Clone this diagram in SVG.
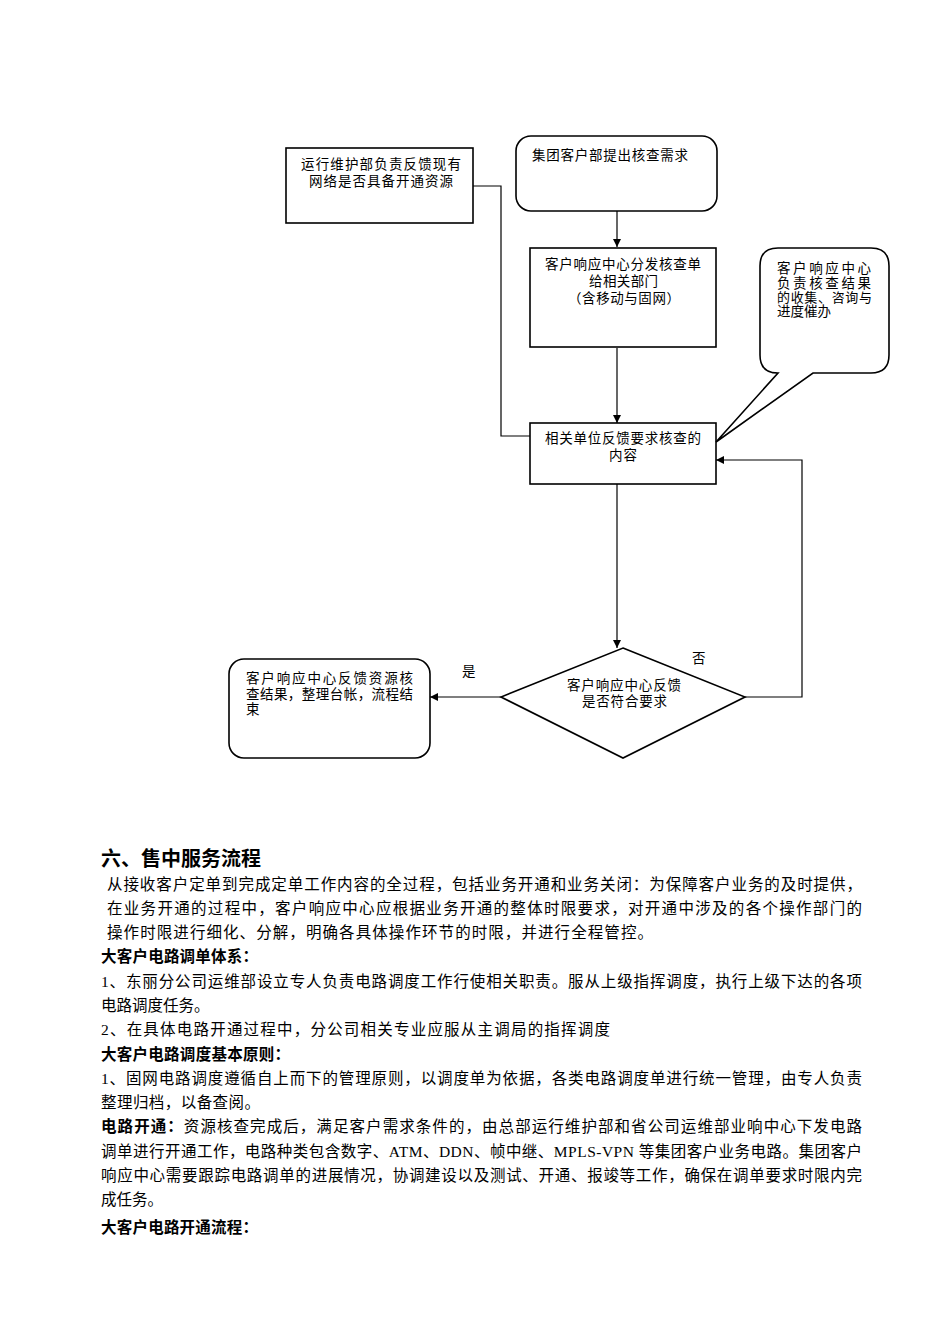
<svg xmlns="http://www.w3.org/2000/svg" width="950" height="1344" viewBox="0 0 950 1344">
<style>
.box{fill:#fff;stroke:#000;stroke-width:1.6}
.ln{fill:none;stroke:#000;stroke-width:1.2}
.t{font-family:"Liberation Serif","Noto Sans CJK SC",serif;font-size:13.5px;fill:#000}
.p{font-family:"Liberation Serif","Noto Sans CJK SC",serif;font-size:15.5px;fill:#000}
.b{font-family:"Liberation Serif","Noto Sans CJK SC",serif;font-size:15.5px;font-weight:bold;fill:#000}
.h{font-family:"Liberation Sans","Noto Sans CJK SC",sans-serif;font-size:20px;font-weight:bold;fill:#000}
</style>
<defs>
<marker id="ar" viewBox="0 0 10 10" refX="10" refY="5" markerWidth="8" markerHeight="8" markerUnits="userSpaceOnUse" orient="auto"><path d="M0,0 L10,5 L0,10 Z" fill="#000"/></marker>
</defs>
<rect width="950" height="1344" fill="#fff"/>
<g id="connectors">
<path class="ln" d="M617,211 V247" marker-end="url(#ar)"/>
<path class="ln" d="M617,348 V423" marker-end="url(#ar)"/>
<path class="ln" d="M473,186 H501 V436 H530"/>
<path class="ln" d="M617,484 V648" marker-end="url(#ar)"/>
<path class="ln" d="M501,697 H430" marker-end="url(#ar)"/>
<path class="ln" d="M745,697 H802 V460 H716" marker-end="url(#ar)"/>
<text class="t" x="462" y="676">是</text>
<text class="t" x="692" y="663">否</text>
</g>
<g id="nodeA">
<rect class="box" x="286" y="148" width="187" height="75"/>
<text class="t" x="301" y="169" textLength="160" lengthAdjust="spacing">运行维护部负责反馈现有</text>
<text class="t" x="309" y="186" textLength="144" lengthAdjust="spacing">网络是否具备开通资源</text>
</g>
<g id="nodeB">
<rect class="box" x="516" y="136" width="201" height="75" rx="15"/>
<text class="t" x="532" y="160" textLength="156" lengthAdjust="spacing">集团客户部提出核查需求</text>
</g>
<g id="nodeC">
<rect class="box" x="530" y="248" width="186" height="99"/>
<text class="t" x="545" y="269" textLength="156" lengthAdjust="spacing">客户响应中心分发核查单</text>
<text class="t" x="589" y="286" textLength="69" lengthAdjust="spacing">给相关部门</text>
<text class="t" x="568" y="303" textLength="112" lengthAdjust="spacing">（含移动与固网）</text>
</g>
<g id="nodeD">
<rect class="box" x="530" y="423" width="186" height="61"/>
<text class="t" x="545" y="443" textLength="156" lengthAdjust="spacing">相关单位反馈要求核查的</text>
<text class="t" x="609" y="460" textLength="28" lengthAdjust="spacing">内容</text>
</g>
<g id="callout">
<path class="box" d="M778,248 H871 Q889,248 889,266 V355 Q889,373 871,373 H813 L716,442 L778,373 Q760,373 760,355 V266 Q760,248 778,248 Z"/>
<text class="t" x="777" y="273" textLength="94" lengthAdjust="spacing">客户响应中心</text>
<text class="t" x="777" y="288" textLength="94" lengthAdjust="spacing">负责核查结果</text>
<text class="t" x="777" y="302" style="font-size:13px" textLength="95" lengthAdjust="spacing">的收集、咨询与</text>
<text class="t" x="777" y="316">进度催办</text>
</g>
<g id="decision">
<path class="box" d="M623,648 L745,697 L623,758 L501,697 Z"/>
<text class="t" x="567" y="690" textLength="114" lengthAdjust="spacing">客户响应中心反馈</text>
<text class="t" x="582" y="706" textLength="85" lengthAdjust="spacing">是否符合要求</text>
</g>
<g id="nodeE">
<rect class="box" x="229" y="659" width="201" height="99" rx="15"/>
<text class="t" x="246" y="683" textLength="167" lengthAdjust="spacing">客户响应中心反馈资源核</text>
<text class="t" x="246" y="699" textLength="167" lengthAdjust="spacing">查结果，整理台帐，流程结</text>
<text class="t" x="246" y="714">束</text>
</g>
<g id="body">
<text class="h" x="101" y="866">六、售中服务流程</text>
<text class="p" x="107" y="890" textLength="755" lengthAdjust="spacing">从接收客户定单到完成定单工作内容的全过程，包括业务开通和业务关闭：为保障客户业务的及时提供，</text>
<text class="p" x="107" y="914" textLength="755" lengthAdjust="spacing">在业务开通的过程中，客户响应中心应根据业务开通的整体时限要求，对开通中涉及的各个操作部门的</text>
<text class="p" x="107" y="938" textLength="546" lengthAdjust="spacing">操作时限进行细化、分解，明确各具体操作环节的时限，并进行全程管控。</text>
<text class="b" x="101" y="962" textLength="157" lengthAdjust="spacing">大客户电路调单体系：</text>
<text class="p" x="101" y="987" textLength="761" lengthAdjust="spacing">1、东丽分公司运维部设立专人负责电路调度工作行使相关职责。服从上级指挥调度，执行上级下达的各项</text>
<text class="p" x="101" y="1011">电路调度任务。</text>
<text class="p" x="101" y="1035" textLength="509" lengthAdjust="spacing">2、在具体电路开通过程中，分公司相关专业应服从主调局的指挥调度</text>
<text class="b" x="101" y="1060" textLength="189" lengthAdjust="spacing">大客户电路调度基本原则：</text>
<text class="p" x="101" y="1084" textLength="761" lengthAdjust="spacing">1、固网电路调度遵循自上而下的管理原则，以调度单为依据，各类电路调度单进行统一管理，由专人负责</text>
<text class="p" x="101" y="1108" textLength="159" lengthAdjust="spacing">整理归档，以备查阅。</text>
<text class="p" x="101" y="1132" textLength="761" lengthAdjust="spacing"><tspan class="b">电路开通：</tspan>资源核查完成后，满足客户需求条件的，由总部运行维护部和省公司运维部业响中心下发电路</text>
<text class="p" x="101" y="1157" textLength="761" lengthAdjust="spacing">调单进行开通工作，电路种类包含数字、ATM、DDN、帧中继、MPLS-VPN 等集团客户业务电路。集团客户</text>
<text class="p" x="101" y="1181" textLength="761" lengthAdjust="spacing">响应中心需要跟踪电路调单的进展情况，协调建设以及测试、开通、报竣等工作，确保在调单要求时限内完</text>
<text class="p" x="101" y="1205">成任务。</text>
<text class="b" x="101" y="1233" textLength="157" lengthAdjust="spacing">大客户电路开通流程：</text>
</g>
</svg>
